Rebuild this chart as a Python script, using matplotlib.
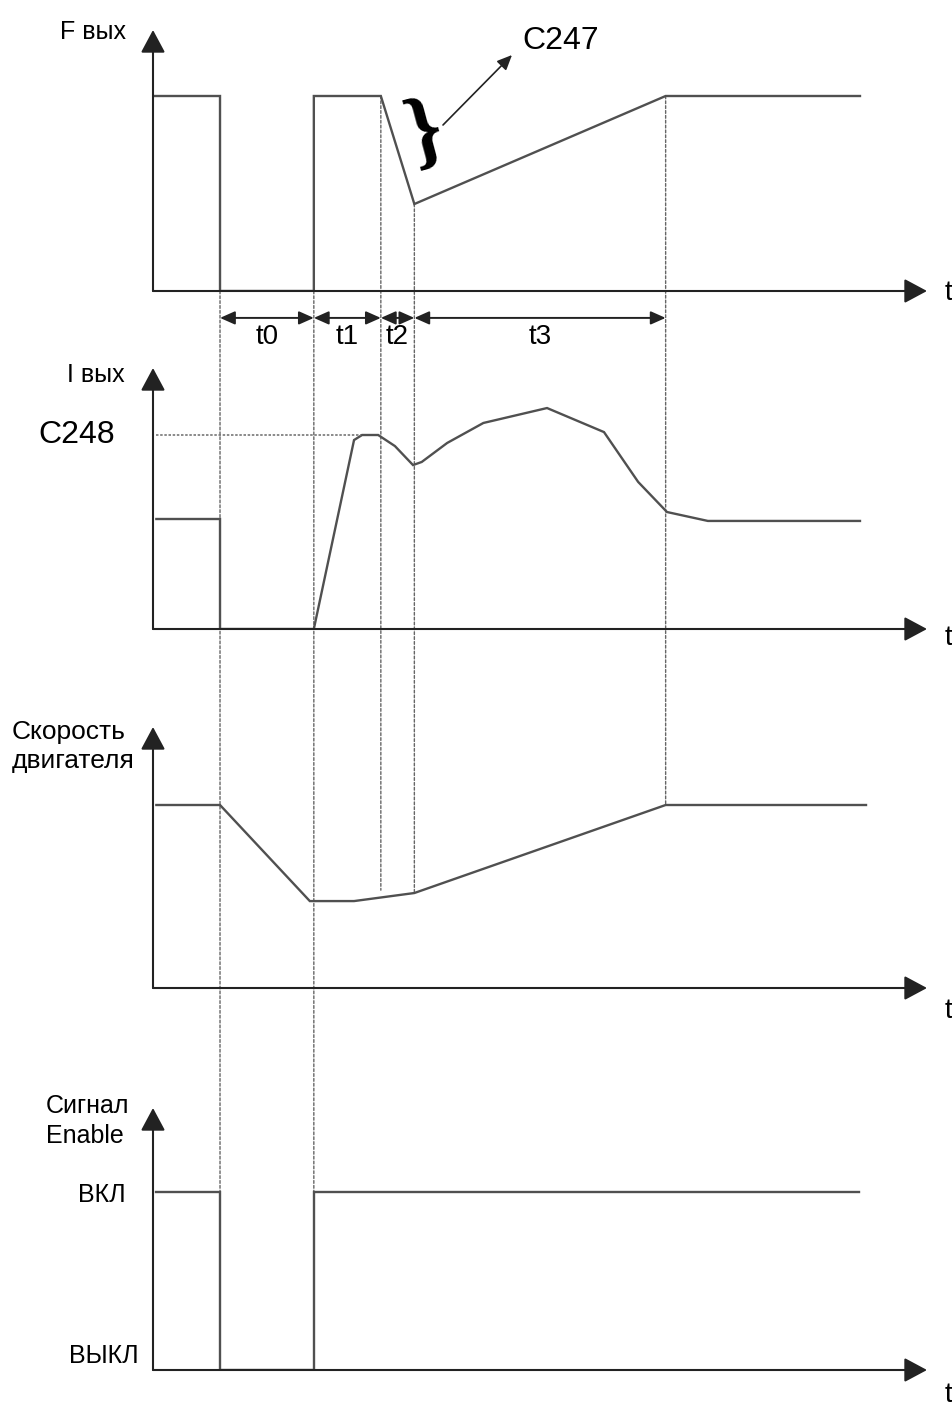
import numpy as np
import matplotlib.pyplot as plt
from matplotlib.patches import ConnectionPatch

plt.rcParams['font.family'] = ['Liberation Sans', 'DejaVu Sans']

# key moments on the time axis (arbitrary units)
T_OFF, T_ON, T_A, T_B, T_C = 10.0, 24.0, 34.0, 39.0, 76.5
T_MAX = 115.5

# output frequency
f_t = [0, T_OFF, T_OFF, T_ON, T_ON, T_A, T_B, T_C, 105.5]
f_v = [1.0, 1.0, 0.0, 0.0, 1.0, 1.0, 0.446, 1.0, 1.0]

# output current (1.0 = C248 limit)
i_t = [0.5, T_OFF, T_OFF, T_ON, 30.0, 31.2, 33.6, 36.1, 38.8, 40.1, 43.9, 49.3,
       58.8, 67.3, 72.4, 76.7, 82.8, 105.5]
i_v = [0.567, 0.567, 0.0, 0.0, 0.974, 1.0, 1.0, 0.943, 0.845, 0.861, 0.959, 1.062,
       1.139, 1.015, 0.758, 0.603, 0.557, 0.557]
C248 = 1.0

# motor speed
s_t = [0.5, T_OFF, 23.4, 30.0, T_B, T_C, 106.4]
s_v = [1.0, 1.0, 0.475, 0.475, 0.519, 1.0, 1.0]

# enable signal
e_t = [0.5, T_OFF, T_OFF, T_ON, T_ON, 105.3]
e_v = [1.0, 1.0, 0.0, 0.0, 1.0, 1.0]

intervals = [(T_OFF, T_ON, 't0'), (T_ON, T_A, 't1'), (T_A, T_B, 't2'), (T_B, T_C, 't3')]

W, H = 953, 1405
fig = plt.figure(figsize=(W / 100, H / 100), dpi=100)

TRACE = dict(color='#505050', lw=1.7, solid_joinstyle='miter')
AXC = '#222222'


def px(x, y):
    return x / W, 1 - y / H


def add_panel(y_axis, y_top, unit):
    ax = fig.add_axes([153 / W, 1 - y_axis / H, 774 / W, (y_axis - y_top) / H])
    ax.set_xlim(0, T_MAX)
    ax.set_ylim(0, (y_axis - y_top) / unit)
    ax.axis('off')
    arrow = dict(arrowstyle='-|>,head_length=1.4,head_width=0.75', mutation_scale=10,
                 color=AXC, lw=1.5, shrinkA=0, shrinkB=0)
    ax.annotate('', xy=(1, 0), xytext=(0, 0), xycoords='axes fraction', arrowprops=arrow)
    ax.annotate('', xy=(0, 1), xytext=(0, 0), xycoords='axes fraction', arrowprops=arrow)
    return ax


ax1 = add_panel(291, 30, 195)
ax2 = add_panel(629, 368, 194)
ax3 = add_panel(988, 727, 183)
ax4 = add_panel(1370, 1108, 178)

ax1.plot(f_t, f_v, **TRACE)
ax2.plot(i_t, i_v, **TRACE)
ax2.plot([0.5, 31.0], [C248, C248], color='#777777', lw=1.2, linestyle=(0, (1.5, 1)))
ax3.plot(s_t, s_v, **TRACE)
ax4.plot(e_t, e_v, **TRACE)

# dotted guides between panels
DASH = dict(color='#666666', lw=1.0, linestyle=(0, (2, 1.5)), zorder=0)
guides = [
    (T_OFF, 0.0, ax4, 1.0),
    (T_ON, 0.0, ax4, 1.0),
    (T_A, 1.0, ax3, np.interp(T_A, s_t, s_v) + 0.04),
    (T_B, np.interp(T_B, f_t, f_v), ax3, np.interp(T_B, s_t, s_v)),
    (T_C, 1.0, ax3, 1.0),
]
for t, ya, axb, yb in guides:
    fig.add_artist(ConnectionPatch(xyA=(t, ya), coordsA=ax1.transData,
                                   xyB=(t, yb), coordsB=axb.transData, **DASH))

# interval dimension arrows
dim = dict(arrowstyle='<|-|>,head_length=0.9,head_width=0.4', mutation_scale=10,
           color='#222222', lw=1.4, shrinkA=0, shrinkB=0)
for a, b, name in intervals:
    ax1.annotate('', xy=(b, -0.138), xytext=(a, -0.138), arrowprops=dim,
                 annotation_clip=False)
    ax1.text((a + b) / 2, -0.27, name, ha='center', va='baseline', fontsize=20,
             clip_on=False)

# C247 brace and pointer
fig.text(*px(425, 134), '}', fontsize=62, family='Liberation Serif', weight='bold',
         rotation=15, ha='center', va='center')
ax1.annotate('', xy=(512, H - 55), xytext=(443, H - 125), xycoords='figure pixels',
             textcoords='figure pixels',
             arrowprops=dict(arrowstyle='-|>,head_length=0.9,head_width=0.4',
                             mutation_scale=10, color='#222222', lw=1.2,
                             shrinkA=0, shrinkB=0))

# labels
lab = dict(va='baseline', fontsize=18)
fig.text(*px(60, 39), 'F вых', **lab)
fig.text(*px(67, 382), 'I вых', **lab)
fig.text(*px(38, 443), 'C248', va='baseline', fontsize=23)
fig.text(*px(522, 49), 'C247', va='baseline', fontsize=23)
fig.text(*px(12, 739), 'Скорость', fontsize=19, va='baseline')
fig.text(*px(12, 768), 'двигателя', fontsize=19, va='baseline')
fig.text(*px(46, 1113), 'Сигнал', **lab)
fig.text(*px(46, 1143), 'Enable', **lab)
fig.text(*px(126, 1202), 'ВКЛ', ha='right', va='baseline', fontsize=18)
fig.text(*px(139, 1363), 'ВЫКЛ', ha='right', va='baseline', fontsize=18)
for y in (300, 645, 1018, 1402):
    fig.text(*px(945, y), 't', va='baseline', fontsize=20)

fig.savefig('out.png', dpi=100, facecolor='white')
